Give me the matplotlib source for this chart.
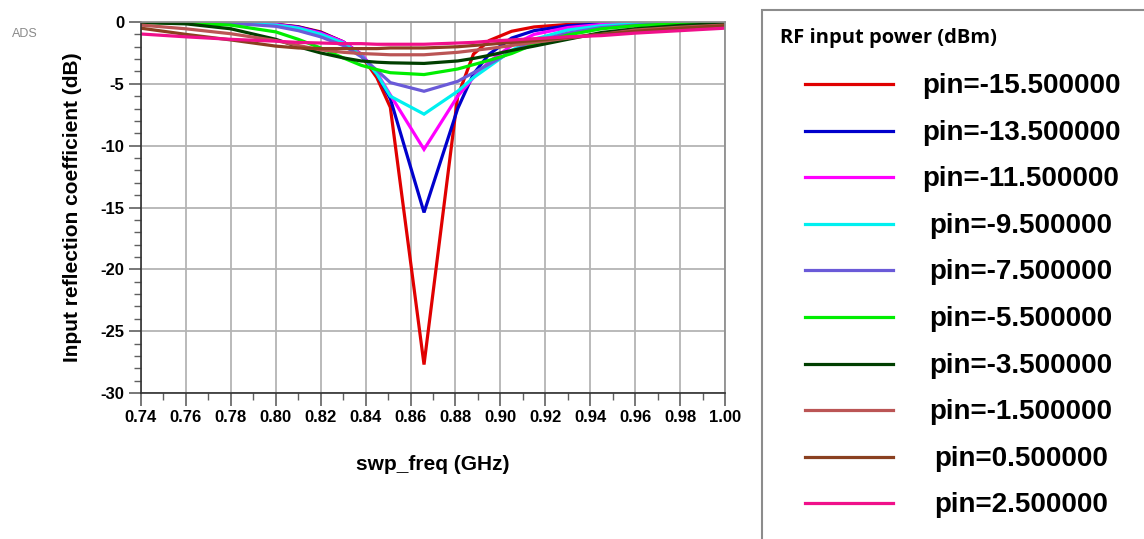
import numpy as np
import matplotlib
matplotlib.use("Agg")
import matplotlib.pyplot as plt
from matplotlib.lines import Line2D
from matplotlib.patches import Rectangle
from matplotlib.ticker import MultipleLocator, FormatStrFormatter

plt.rcParams['font.family'] = ['Liberation Sans', 'DejaVu Sans']
plt.rcParams['axes.unicode_minus'] = False

# swept frequency (GHz)
freq = [0.740, 0.760, 0.780, 0.800, 0.810, 0.820, 0.830, 0.838, 0.845, 0.851, 0.866,
        0.881, 0.888, 0.895, 0.905, 0.915, 0.930, 0.945, 0.960, 0.980, 1.000]

pin = [-15.5, -13.5, -11.5, -9.5, -7.5, -5.5, -3.5, -1.5, 0.5, 2.5]

# input reflection coefficient (dB), one list per input power
s11_m155 = [-0.02, -0.03, -0.05, -0.18, -0.38, -0.8, -1.6, -2.7, -4.5, -6.9, -27.7,
            -6.0, -2.6, -1.5, -0.75, -0.4, -0.2, -0.1, -0.05, -0.03, -0.02]
s11_m135 = [-0.02, -0.03, -0.05, -0.2, -0.4, -0.85, -1.6, -2.6, -4.2, -6.2, -15.4,
            -7.0, -4.2, -2.6, -1.3, -0.7, -0.3, -0.15, -0.08, -0.04, -0.02]
s11_m115 = [-0.02, -0.03, -0.06, -0.2, -0.45, -0.9, -1.6, -2.6, -4.1, -5.9, -10.3,
            -6.0, -4.5, -3.2, -1.9, -1.0, -0.45, -0.2, -0.1, -0.05, -0.03]
s11_m95 = [-0.02, -0.03, -0.08, -0.25, -0.5, -1.0, -1.7, -2.7, -4.2, -6.0, -7.45,
           -5.6, -4.5, -3.6, -2.3, -1.4, -0.65, -0.3, -0.15, -0.07, -0.03]
s11_m75 = [-0.02, -0.05, -0.1, -0.35, -0.7, -1.2, -1.9, -2.8, -3.9, -4.9, -5.6,
           -4.8, -4.1, -3.4, -2.4, -1.6, -0.9, -0.45, -0.25, -0.1, -0.05]
s11_m55 = [-0.03, -0.08, -0.25, -0.8, -1.4, -2.1, -2.9, -3.5, -3.85, -4.1, -4.25,
           -3.8, -3.45, -3.1, -2.55, -1.8, -1.05, -0.55, -0.3, -0.12, -0.05]
s11_m35 = [-0.05, -0.15, -0.55, -1.4, -2.0, -2.5, -2.9, -3.15, -3.25, -3.3, -3.35,
           -3.15, -2.95, -2.7, -2.3, -1.95, -1.4, -0.85, -0.55, -0.28, -0.12]
s11_m15 = [-0.25, -0.55, -0.95, -1.5, -1.9, -2.25, -2.45, -2.55, -2.6, -2.65, -2.65,
           -2.45, -2.3, -2.15, -1.9, -1.65, -1.3, -1.0, -0.65, -0.42, -0.25]
s11_p05 = [-0.5, -1.0, -1.45, -1.95, -2.1, -2.15, -2.15, -2.15, -2.15, -2.1, -2.1,
           -2.0, -1.9, -1.8, -1.65, -1.5, -1.25, -1.0, -0.75, -0.5, -0.3]
s11_p25 = [-0.97, -1.2, -1.4, -1.55, -1.65, -1.7, -1.75, -1.75, -1.8, -1.8, -1.8,
           -1.7, -1.65, -1.55, -1.45, -1.35, -1.2, -1.1, -0.9, -0.7, -0.5]

curves = [s11_m155, s11_m135, s11_m115, s11_m95, s11_m75,
          s11_m55, s11_m35, s11_m15, s11_p05, s11_p25]
colors = ['#e00000', '#0000cc', '#ff00ff', '#00f0f0', '#6a5ad8',
          '#00ee00', '#003f00', '#bb5555', '#8a4020', '#f0108a']

W, H = 1144, 539
fig = plt.figure(figsize=(W / 100, H / 100), dpi=100)
ax = fig.add_axes([141 / W, 1 - 393 / H, 584 / W, 371 / H])

for ys, c in zip(curves, colors):
    ax.plot(freq, ys, color=c, lw=2.3, solid_joinstyle='miter')

ax.set_xlim(0.74, 1.00)
ax.set_ylim(-30, 0)
ax.xaxis.set_major_locator(MultipleLocator(0.02))
ax.xaxis.set_minor_locator(MultipleLocator(0.01))
ax.yaxis.set_major_locator(MultipleLocator(5))
ax.yaxis.set_minor_locator(MultipleLocator(1))
ax.xaxis.set_major_formatter(FormatStrFormatter('%.2f'))
ax.yaxis.set_major_formatter(FormatStrFormatter('%d'))
ax.grid(True, which='major', color='#b4b4b4', lw=1.3)
ax.set_axisbelow(True)
ax.tick_params(which='major', length=9, width=1.2, color='#606060', labelsize=12, pad=3)
ax.tick_params(which='minor', length=5, width=1.0, color='#606060')
for lab in ax.get_xticklabels() + ax.get_yticklabels():
    lab.set_fontweight('bold')
for side in ['top', 'right']:
    ax.spines[side].set_color('#909090')
    ax.spines[side].set_linewidth(1.3)
for side in ['left', 'bottom']:
    ax.spines[side].set_color('#303030')
    ax.spines[side].set_linewidth(1.2)

ax.set_xlabel('swp_freq (GHz)', fontsize=15, fontweight='bold', labelpad=22)
ax.set_ylabel('Input reflection coefficient (dB)', fontsize=15, fontweight='bold', labelpad=13)

fig.text(12 / W, 1 - 34 / H, 'ADS', fontsize=9, color='#8a8a8a', ha='left', va='center')

# legend panel
fig.add_artist(Rectangle((762 / W, -0.05), 0.5, 1 - 10 / H + 0.05,
                         transform=fig.transFigure, fill=False,
                         edgecolor='#8c8c8c', lw=1.5))
fig.text(780 / W, 1 - 38 / H, 'RF input power (dBm)', fontsize=14.5,
         fontweight='bold', family=['Open Sans', 'DejaVu Sans'],
         ha='left', va='center')
for i, (p, c) in enumerate(zip(pin, colors)):
    yy = 1 - (84 + i * 46.6) / H
    fig.add_artist(Line2D([805 / W, 893 / W], [yy, yy], transform=fig.transFigure,
                          color=c, lw=2.3))
    fig.text(1021 / W, yy - 2 / H, f'pin={p:.6f}', fontsize=20, fontweight='bold',
             ha='center', va='center')

fig.savefig('out.png', dpi=100)
